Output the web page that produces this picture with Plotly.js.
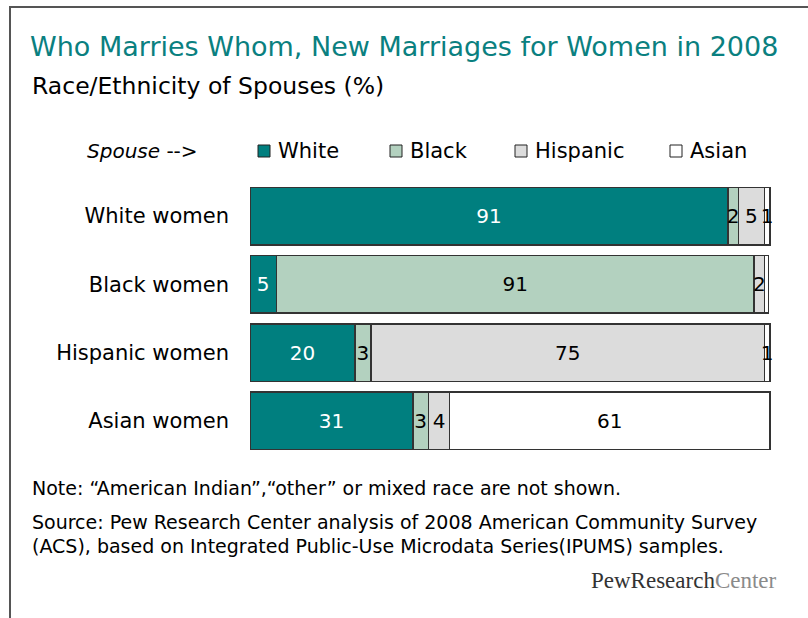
<!DOCTYPE html>
<html>
<head>
<meta charset="utf-8">
<script src="https://cdn.plot.ly/plotly-3.0.1.min.js"></script>
<style>
  body { margin: 0; background: #fff; }
  #myDiv { width: 808px; height: 618px; }
</style>
</head>
<body>
<div id="myDiv"></div>
<script>
// Datos del gráfico
const groups = ['White women', 'Black women', 'Hispanic women', 'Asian women'];
const spouseNames = ['White', 'Black', 'Hispanic', 'Asian'];
const whiteSpouse = [91, 5, 20, 31];
const blackSpouse = [2, 91, 3, 3];
const hispanicSpouse = [5, 2, 75, 4];
const asianSpouse = [1, 0.8, 1, 61];
const asianLabels = ['1', '', '1', '61'];

const colors = ['#007f7f', '#b3d1bf', '#dcdcdc', '#ffffff'];
const textColors = ['#ffffff', '#000000', '#000000', '#000000'];
const font = 'Tahoma, "DejaVu Sans", sans-serif';

// Área del gráfico en píxeles
const W = 808, H = 618;
const plotL = 250, plotR = 775, plotT = 182, plotB = 455;
const px = x => (x - plotL) / (plotR - plotL);
const py = y => (plotB - y) / (plotB - plotT);

const series = [whiteSpouse, blackSpouse, hispanicSpouse, asianSpouse];
const traces = series.map((vals, i) => ({
    type: 'bar',
    orientation: 'h',
    name: spouseNames[i],
    y: groups,
    x: vals,
    text: i === 3 ? asianLabels : vals.map(String),
    textposition: 'inside',
    insidetextanchor: 'middle',
    constraintext: 'none',
    textangle: 0,
    textfont: { family: font, size: 20, color: textColors[i] },
    marker: { color: colors[i], line: { color: '#333333', width: 1.5 } },
    hoverinfo: 'none',
    width: 0.84
}));

// Leyenda dibujada a mano
const legendX = [258, 390, 515, 670];
const legendY = 151;
const shapes = [{
    type: 'path',
    xref: 'paper', yref: 'paper',
    path: `M ${px(10)} ${py(625)} L ${px(10)} ${py(7)} L ${px(815)} ${py(7)}`,
    line: { color: '#555555', width: 2 }
}];
legendX.forEach((x, i) => {
    shapes.push({
        type: 'rect', xref: 'paper', yref: 'paper',
        x0: px(x), x1: px(x + 12), y0: py(legendY + 6), y1: py(legendY - 6),
        fillcolor: colors[i], line: { color: '#222222', width: 1 }
    });
});

const annotations = [
    { text: 'Who Marries Whom, New Marriages for Women in 2008', x: px(28), y: py(46), font: { size: 27, color: '#0a8080' } },
    { text: 'Race/Ethnicity of Spouses (%)', x: px(30), y: py(86), font: { size: 23.5 } },
    { text: '<i>Spouse</i> -->', x: px(85), y: py(legendY), font: { size: 20 } },
    { text: 'Note: “American Indian”,“other” or mixed race are not shown.', x: px(30), y: py(488), font: { size: 19 } },
    { text: 'Source: Pew Research Center analysis of 2008 American Community Survey', x: px(30), y: py(522), font: { size: 19 } },
    { text: '(ACS), based on Integrated Public-Use Microdata Series(IPUMS) samples.', x: px(30), y: py(546), font: { size: 19 } }
];
legendX.forEach((x, i) => {
    annotations.push({ text: spouseNames[i], x: px(x + 18), y: py(legendY), font: { size: 21 } });
});
annotations.forEach(a => {
    a.xref = 'paper'; a.yref = 'paper';
    a.xanchor = 'left'; a.yanchor = 'middle';
    a.showarrow = false;
    a.font = Object.assign({ family: font, color: '#000000' }, a.font);
});
annotations.push({
    text: 'PewResearch<span style="color:#8a8a8a">Center</span>',
    xref: 'paper', yref: 'paper', x: px(779), y: py(580),
    xanchor: 'right', yanchor: 'middle', showarrow: false,
    font: { family: '"Liberation Serif", "Times New Roman", serif', size: 23, color: '#333333' }
});

const layout = {
    width: W, height: H,
    barmode: 'stack',
    showlegend: false,
    paper_bgcolor: '#ffffff',
    plot_bgcolor: '#ffffff',
    margin: { l: plotL, r: W - plotR, t: plotT, b: H - plotB, pad: 0 },
    xaxis: { range: [0, 100], visible: false, fixedrange: true },
    yaxis: {
        autorange: 'reversed',
        showgrid: false, zeroline: false, showline: false,
        ticks: '', ticklabelstandoff: 20,
        tickfont: { family: font, size: 21, color: '#000000' },
        fixedrange: true
    },
    shapes: shapes,
    annotations: annotations
};

Plotly.newPlot('myDiv', traces, layout, { displayModeBar: false, staticPlot: true });
</script>
</body>
</html>
